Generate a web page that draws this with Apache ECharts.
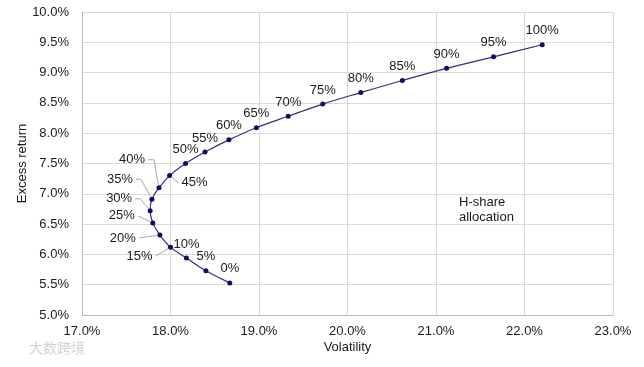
<!DOCTYPE html>
<html>
<head>
<meta charset="utf-8">
<script src="https://cdn.jsdelivr.net/npm/echarts@6/dist/echarts.min.js"></script>
<style>
html,body{margin:0;padding:0;background:#fff;}
#chart{width:644px;height:367px;}
</style>
</head>
<body>
<div id="chart"></div>
<script>
// ---- data ----
var allocations = ['0%','5%','10%','15%','20%','25%','30%','35%','40%','45%','50%','55%','60%','65%','70%','75%','80%','85%','90%','95%','100%'];
var volatility = [18.67, 18.40, 18.18, 18.00, 17.88, 17.80, 17.77, 17.79, 17.87, 17.99, 18.17, 18.39, 18.66, 18.97, 19.33, 19.72, 20.15, 20.62, 21.12, 21.65, 22.20];
var excessReturn = [5.53, 5.73, 5.94, 6.12, 6.32, 6.52, 6.72, 6.91, 7.10, 7.30, 7.50, 7.69, 7.89, 8.09, 8.28, 8.48, 8.67, 8.87, 9.07, 9.26, 9.46];
var xTicks = [17, 18, 19, 20, 21, 22, 23];
var yTicks = [5.0, 5.5, 6.0, 6.5, 7.0, 7.5, 8.0, 8.5, 9.0, 9.5, 10.0];
var annotation = 'H-share\nallocation';

// ---- label styling: pixel offset of moved labels [dx, dy, leader elbow length], by point index ----
var labelShift = {3:[-31,23,0], 4:[-37,17,0], 5:[-31,7,0], 6:[-31,2,5], 7:[-32,-6,5], 8:[-27,-14,6], 9:[25,21,0]};

var FONT = '"Liberation Sans", Arial, sans-serif';
var FONT_SIZE = 13;
var LABEL_DIST = 5, SYMBOL_SIZE = 5;
var TEXT = '#1a1a1a';

var measureCtx = document.createElement('canvas').getContext('2d');
measureCtx.font = FONT_SIZE + 'px ' + FONT;
function textWidth(t) { return measureCtx.measureText(t).width; }

var seriesData = volatility.map(function (v, i) {
  var item = { value: [v, excessReturn[i]], name: allocations[i] };
  if (labelShift[i]) item.label = { offset: [labelShift[i][0], labelShift[i][1]] };
  return item;
});

var leaderData = Object.keys(labelShift).map(function (k) {
  var i = +k;
  return [volatility[i], excessReturn[i], i];
});

function renderLeader(params, api) {
  var i = api.value(2);
  var s = labelShift[i];
  var p = api.coord([api.value(0), api.value(1)]);
  var cx = p[0] + s[0];
  var cy = p[1] - SYMBOL_SIZE / 2 - LABEL_DIST - FONT_SIZE / 2 + s[1];
  var halfW = textWidth(allocations[i]) / 2;
  var dir = s[0] < 0 ? 1 : -1;
  var a = [cx + dir * (halfW + 3), cy];
  var pts = [a];
  var m = a;
  if (s[2]) { m = [a[0] + dir * s[2], cy]; pts.push(m); }
  var dx = p[0] - m[0], dy = p[1] - m[1];
  var len = Math.sqrt(dx * dx + dy * dy) || 1;
  var gap = 3;
  pts.push([p[0] - dx / len * gap, p[1] - dy / len * gap]);
  return {
    type: 'polyline',
    shape: { points: pts },
    style: { stroke: '#a9a9a9', lineWidth: 1, fill: null }
  };
}

var chart = echarts.init(document.getElementById('chart'), null, { renderer: 'canvas' });
chart.setOption({
  animation: false,
  backgroundColor: '#ffffff',
  grid: { left: 82, right: 31, top: 12, bottom: 52, containLabel: false },
  xAxis: {
    type: 'value',
    min: xTicks[0], max: xTicks[xTicks.length - 1], interval: 1,
    name: 'Volatility', nameLocation: 'middle', nameGap: 26, nameMoveOverlap: false,
    nameTextStyle: { fontFamily: FONT, fontSize: FONT_SIZE, color: TEXT },
    axisLine: { show: true, lineStyle: { color: '#b8b8b8', width: 1 } },
    axisTick: { show: false },
    axisLabel: { fontFamily: FONT, fontSize: FONT_SIZE, color: TEXT, margin: 10,
      formatter: function (v) { return v.toFixed(1) + '%'; } },
    splitLine: { show: true, lineStyle: { color: '#dadada', width: 1 } }
  },
  yAxis: {
    type: 'value',
    min: yTicks[0], max: yTicks[yTicks.length - 1], interval: 0.5,
    name: 'Excess return', nameLocation: 'middle', nameGap: 53, nameMoveOverlap: false,
    nameTextStyle: { fontFamily: FONT, fontSize: FONT_SIZE, color: TEXT },
    axisLine: { show: true, lineStyle: { color: '#b8b8b8', width: 1 } },
    axisTick: { show: false },
    axisLabel: { fontFamily: FONT, fontSize: FONT_SIZE, color: TEXT, margin: 13,
      formatter: function (v) { return v.toFixed(1) + '%'; } },
    splitLine: { show: true, lineStyle: { color: '#dadada', width: 1 } }
  },
  series: [{
    type: 'custom',
    coordinateSystem: 'cartesian2d',
    data: leaderData,
    encode: { x: 0, y: 1 },
    renderItem: renderLeader,
    silent: true,
    z: 1
  }, {
    type: 'line',
    data: seriesData,
    smooth: 0.4,
    symbol: 'circle',
    symbolSize: SYMBOL_SIZE,
    lineStyle: { color: '#30307e', width: 1.2 },
    itemStyle: { color: '#0c0c6e' },
    label: {
      show: true, position: 'top', distance: LABEL_DIST,
      fontFamily: FONT, fontSize: FONT_SIZE, color: TEXT,
      formatter: function (p) { return p.name; }
    },
    emphasis: { disabled: true },
    z: 2
  }],
  graphic: [
    { type: 'text', left: 459, top: 195,
      style: { text: annotation, fontFamily: FONT, fontSize: FONT_SIZE, fill: TEXT, lineHeight: 15 } },
    { type: 'text', left: 29, top: 341,
      style: { text: '大数跨境', fontFamily: '"Noto Sans CJK SC", sans-serif', fontSize: 14, fill: '#d2d2d2' } }
  ]
});
</script>
</body>
</html>
